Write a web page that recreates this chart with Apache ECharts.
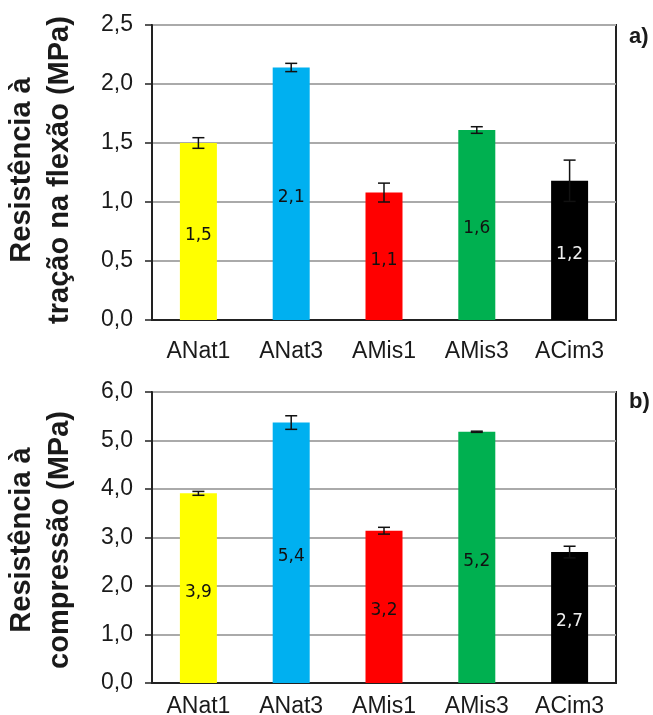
<!DOCTYPE html>
<html lang="pt">
<head>
  <meta charset="UTF-8" />
  <title>Resistência</title>
  <style>
    body { margin: 0; background: #fff }
    #chart { width: 653px; height: 715px }
  </style>
  <script src="https://cdn.jsdelivr.net/npm/echarts@6/dist/echarts.min.js"></script>
</head>
<body>
  <div id="chart"></div>
  <script>
    // dados
    const categories = ['ANat1', 'ANat3', 'AMis1', 'AMis3', 'ACim3'];
    const barColors = ['#ffff00', '#00b0f0', '#ff0000', '#00b050', '#000000'];
    const labelColors = ['#111', '#111', '#111', '#111', '#eeeeee'];

    // a) tração na flexão
    const flexValues = [1.50, 2.14, 1.08, 1.61, 1.18];
    const flexErrors = [0.045, 0.035, 0.08, 0.028, 0.175];
    const flexLabels = ['1,5', '2,1', '1,1', '1,6', '1,2'];

    // b) compressão
    const compValues = [3.91, 5.37, 3.14, 5.18, 2.70];
    const compErrors = [0.04, 0.14, 0.07, 0.012, 0.12];
    const compLabels = ['3,9', '5,4', '3,2', '5,2', '2,7'];

    const chart = echarts.init(document.getElementById('chart'));
    const axisFont = { fontFamily: 'Liberation Sans, Arial', fontSize: 23, color: '#1a1a1a' };
    const fmt = v => v.toFixed(1).replace('.', ',');

    function xAxisOf(gridIndex, margin) {
      return {
        type: 'category', gridIndex, data: categories,
        axisLine: { lineStyle: { color: '#222', width: 2 } },
        axisTick: { length: 7, lineStyle: { color: '#222', width: 1.5 } },
        axisLabel: Object.assign({ margin }, axisFont)
      };
    }
    function yAxisOf(gridIndex, max, interval) {
      return {
        type: 'value', gridIndex, min: 0, max, interval,
        axisLine: { show: true, lineStyle: { color: '#222', width: 2 } },
        axisTick: { show: true, length: 7, lineStyle: { color: '#222', width: 1.5 } },
        splitLine: { lineStyle: { color: '#aaaaaa', width: 1.8 } },
        axisLabel: Object.assign({ margin: 19, formatter: fmt }, axisFont)
      };
    }
    function barSeries(idx, values, labels) {
      return {
        type: 'bar', xAxisIndex: idx, yAxisIndex: idx, barWidth: 37,
        data: values.map((v, i) => ({
          value: v,
          itemStyle: { color: barColors[i] },
          label: { color: labelColors[i] }
        })),
        label: {
          show: true, position: 'inside', offset: [0, 4],
          fontFamily: 'DejaVu Sans', fontSize: 17,
          formatter: p => labels[p.dataIndex]
        }
      };
    }
    function errorSeries(idx, values, errors) {
      return {
        type: 'custom', xAxisIndex: idx, yAxisIndex: idx, z: 5,
        data: values.map((v, i) => [i, v, errors[i]]),
        encode: { x: 0, y: 1 },
        renderItem(params, api) {
          const i = api.value(0), v = api.value(1), e = api.value(2);
          const top = api.coord([i, v + e]);
          const bot = api.coord([i, v - e]);
          const w = 6;
          const st = { stroke: '#111', lineWidth: 1.5 };
          return {
            type: 'group',
            children: [
              { type: 'line', shape: { x1: top[0], y1: top[1], x2: bot[0], y2: bot[1] }, style: st },
              { type: 'line', shape: { x1: top[0] - w, y1: top[1], x2: top[0] + w, y2: top[1] }, style: st },
              { type: 'line', shape: { x1: bot[0] - w, y1: bot[1], x2: bot[0] + w, y2: bot[1] }, style: st }
            ]
          };
        }
      };
    }
    const titleFont = 'bold 29px "Liberation Sans", Arial';

    chart.setOption({
      backgroundColor: '#fff',
      animation: false,
      grid: [
        { left: 152, top: 25, width: 464, height: 295, show: true, borderColor: '#222', borderWidth: 2, outerBoundsMode: 'none' },
        { left: 152, top: 392, width: 464, height: 291, show: true, borderColor: '#222', borderWidth: 2, outerBoundsMode: 'none' }
      ],
      xAxis: [xAxisOf(0, 20), xAxisOf(1, 12)],
      yAxis: [yAxisOf(0, 2.5, 0.5), yAxisOf(1, 6, 1)],
      series: [
        barSeries(0, flexValues, flexLabels),
        errorSeries(0, flexValues, flexErrors),
        barSeries(1, compValues, compLabels),
        errorSeries(1, compValues, compErrors)
      ],
      graphic: [
        {
          type: 'text', x: 41, y: 170, rotation: Math.PI / 2,
          style: { text: 'Resistência à\ntração na flexão (MPa)', font: titleFont, lineHeight: 38, align: 'center', verticalAlign: 'middle', fill: '#1a1a1a' }
        },
        {
          type: 'text', x: 41, y: 540, rotation: Math.PI / 2,
          style: { text: 'Resistência à\ncompressão (MPa)', font: titleFont, lineHeight: 38, align: 'center', verticalAlign: 'middle', fill: '#1a1a1a' }
        },
        { type: 'text', x: 629, y: 37, style: { text: 'a)', font: 'bold 22px "Liberation Sans", Arial', verticalAlign: 'middle', fill: '#1a1a1a' } },
        { type: 'text', x: 629, y: 402, style: { text: 'b)', font: 'bold 22px "Liberation Sans", Arial', verticalAlign: 'middle', fill: '#1a1a1a' } }
      ]
    });
  </script>
</body>
</html>
